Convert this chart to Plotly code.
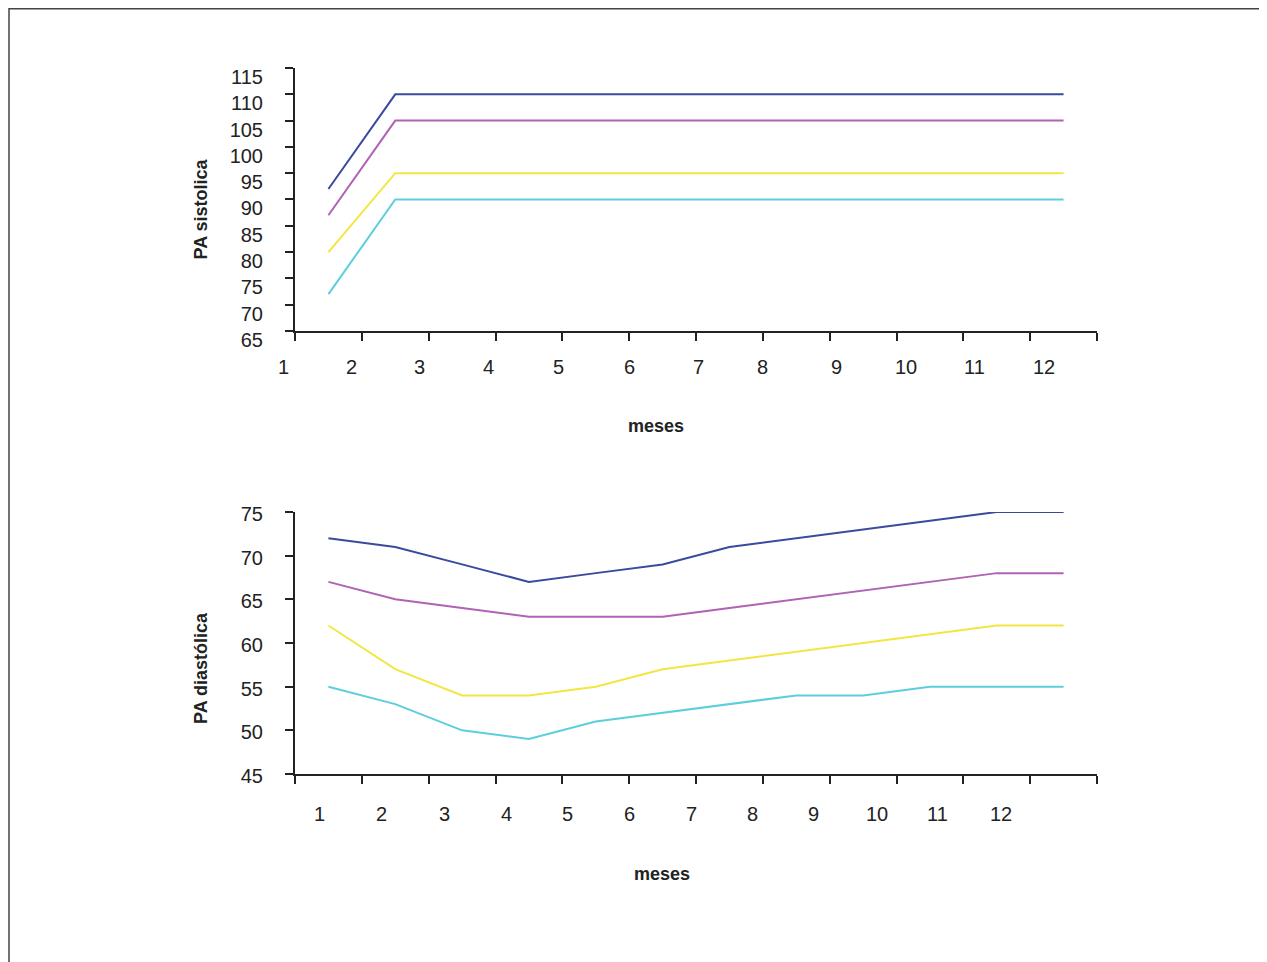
import plotly.graph_objects as go

# ---- data ----
meses = list(range(1, 13))
sis_p97 = [92, 110, 110, 110, 110, 110, 110, 110, 110, 110, 110, 110]
sis_p90 = [87, 105, 105, 105, 105, 105, 105, 105, 105, 105, 105, 105]
sis_p50 = [80, 95, 95, 95, 95, 95, 95, 95, 95, 95, 95, 95]
sis_p10 = [72, 90, 90, 90, 90, 90, 90, 90, 90, 90, 90, 90]

dia_p97 = [72, 71, 69, 67, 68, 69, 71, 72, 73, 74, 75, 75]
dia_p90 = [67, 65, 64, 63, 63, 63, 64, 65, 66, 67, 68, 68]
dia_p50 = [62, 57, 54, 54, 55, 57, 58, 59, 60, 61, 62, 62]
dia_p10 = [55, 53, 50, 49, 51, 52, 53, 54, 54, 55, 55, 55]

tick_labels = [str(m) for m in meses]
# label positions (as drawn in original, offset from category ticks), in x units
top_label_pos = [0.335, 1.35, 2.37, 3.40, 4.45, 5.50, 6.53, 7.49, 8.60, 9.64, 10.67, 11.71]
bot_label_pos = [0.87, 1.80, 2.73, 3.66, 4.57, 5.50, 6.43, 7.34, 8.26, 9.21, 10.11, 11.07]

colors = ["#3a4a9c", "#b062b6", "#f2e642", "#5ccedc"]
X_RANGE = [0.5, 12.5]

fig = go.Figure()
for vals, c in zip([sis_p97, sis_p90, sis_p50, sis_p10], colors):
    fig.add_trace(go.Scatter(x=meses, y=vals, mode="lines", line=dict(color=c, width=2),
                             xaxis="x", yaxis="y", showlegend=False, hoverinfo="skip"))
for vals, c in zip([dia_p97, dia_p90, dia_p50, dia_p10], colors):
    fig.add_trace(go.Scatter(x=meses, y=vals, mode="lines", line=dict(color=c, width=2),
                             xaxis="x2", yaxis="y2", showlegend=False, hoverinfo="skip"))

tickfont = dict(family="Liberation Sans Narrow, Arial Narrow, Liberation Sans, Arial", size=20, color="#222")
axcol = "#222"

base_x = dict(range=X_RANGE, showgrid=False, zeroline=False, showline=True, linecolor=axcol,
              linewidth=2, ticks="outside", ticklen=8, tickwidth=2, tickcolor=axcol,
              tickvals=[i + 0.5 for i in range(0, 13)], showticklabels=False, fixedrange=True)

fig.update_layout(
    width=1259, height=954,
    margin=dict(l=287, r=170, t=60, b=188),
    paper_bgcolor="white", plot_bgcolor="white",
    xaxis=dict(base_x, anchor="y"),
    xaxis2=dict(base_x, anchor="y2"),
    yaxis=dict(domain=[0.6275, 1.0], range=[65, 115], tickvals=list(range(65, 116, 5)),
               showgrid=False, zeroline=False, showline=True, linecolor=axcol, linewidth=2,
               ticks="outside", ticklen=8, tickwidth=2, tickcolor=axcol, tickfont=tickfont,
               ticklabelshift=9, ticklabelstandoff=18, anchor="x", fixedrange=True),
    yaxis2=dict(domain=[0.0, 0.3711], range=[45, 75], tickvals=list(range(45, 76, 5)),
                showgrid=False, zeroline=False, showline=True, linecolor=axcol, linewidth=2,
                ticks="outside", ticklen=8, tickwidth=2, tickcolor=axcol, tickfont=tickfont,
                ticklabelshift=2, ticklabelstandoff=18, anchor="x2", fixedrange=True),
)

span = X_RANGE[1] - X_RANGE[0]
# x tick labels (offset from the category tick marks, as in the original)
for pos, lab in zip(top_label_pos, tick_labels):
    fig.add_annotation(text=lab, xref="x domain", yref="y domain", x=(pos - X_RANGE[0]) / span,
                       y=0, yshift=-36, xanchor="center", yanchor="middle",
                       showarrow=False, font=tickfont)
for pos, lab in zip(bot_label_pos, tick_labels):
    fig.add_annotation(text=lab, xref="x2 domain", yref="y2 domain", x=(pos - X_RANGE[0]) / span,
                       y=0, yshift=-40, xanchor="center", yanchor="middle",
                       showarrow=False, font=tickfont)

titlefont = dict(family="Liberation Sans, Arial", size=18, color="#222")
fig.add_annotation(text="<b>PA sistolica</b>", textangle=-90, xref="x domain", yref="y domain",
                   x=0, y=0.5, xshift=-94, yshift=-10, xanchor="center", yanchor="middle",
                   showarrow=False, font=titlefont)
fig.add_annotation(text="<b>PA diastólica</b>", textangle=-90, xref="x2 domain", yref="y2 domain",
                   x=0, y=0.5, xshift=-94, yshift=-25, xanchor="center", yanchor="middle",
                   showarrow=False, font=titlefont)
fig.add_annotation(text="<b>meses</b>", xref="x domain", yref="y domain",
                   x=0.5, y=0, xshift=-40, yshift=-95, xanchor="center", yanchor="middle",
                   showarrow=False, font=titlefont)
fig.add_annotation(text="<b>meses</b>", xref="x2 domain", yref="y2 domain",
                   x=0.5, y=0, xshift=-34, yshift=-100, xanchor="center", yanchor="middle",
                   showarrow=False, font=titlefont)

# outer frame
fig.add_shape(type="rect", xref="paper", yref="paper", x0=-0.3566, x1=1.2057, y0=-0.30, y1=1.0838,
              line=dict(color="#444", width=1.5), layer="below")

fig.write_html("out.html")
